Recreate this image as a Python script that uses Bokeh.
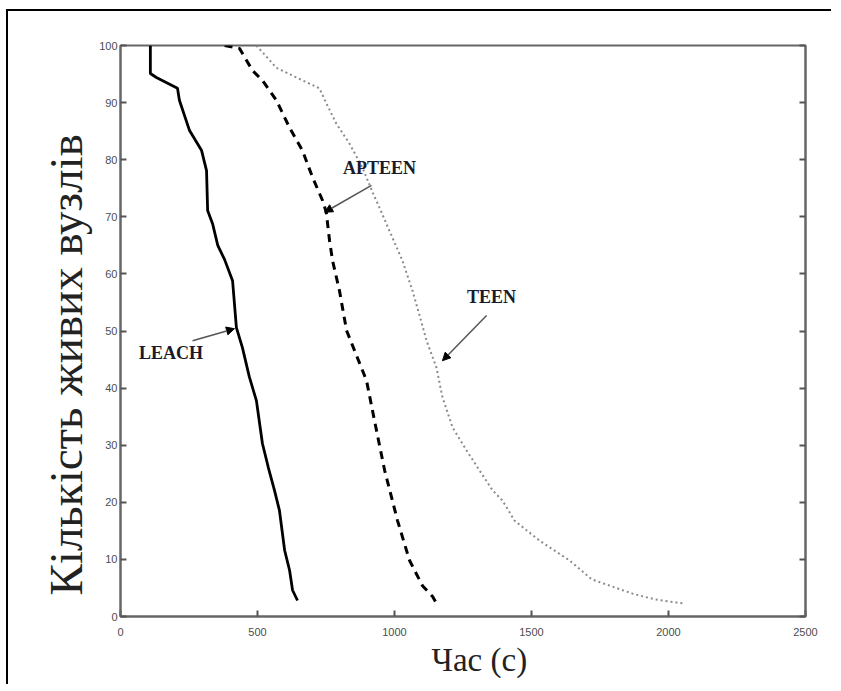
from bokeh.plotting import figure
from bokeh.models import LinearAxis, FixedTicker, Title, Arrow, NormalHead
from bokeh.core.properties import value
from bokeh.embed import file_html
from bokeh.resources import INLINE

# ---- data ----
leach_x = [109, 109, 131, 208, 215, 252, 296, 314, 318, 336, 355, 380, 409, 423, 445, 470, 496, 518, 540, 562, 580, 599, 617, 628, 646]
leach_y = [100, 95.1, 94.4, 92.5, 90.4, 85.1, 81.6, 78.1, 71.1, 68.8, 65, 62.5, 58.8, 50.6, 47.1, 42, 37.8, 30.3, 26, 22.1, 18.6, 11.6, 8.1, 4.6, 2.8]

apteen_x = [380, 434, 482, 518, 569, 617, 664, 701, 737, 751, 763, 774, 799, 825, 854, 898, 927, 964, 1011, 1055, 1102, 1139, 1153]
apteen_y = [100, 99.5, 95.6, 93.9, 90.4, 85.6, 81.6, 76.9, 72.9, 70.8, 65.8, 62.3, 57.1, 50.1, 46.6, 41.3, 34.3, 25.6, 16.8, 9.8, 5.4, 3.5, 2.3]

teen_x = [496, 569, 642, 726, 752, 788, 836, 883, 920, 945, 982, 1029, 1066, 1091, 1117, 1153, 1175, 1212, 1263, 1310, 1358, 1394, 1438, 1529, 1639, 1720, 1869, 1950, 2051]
teen_y = [100, 96.1, 94.4, 92.5, 89.8, 86.3, 82.8, 78.6, 74.3, 71.6, 67.5, 62.3, 57.0, 52.8, 48.3, 43.6, 38.4, 33.1, 29.1, 25.6, 22.1, 20.3, 16.8, 13.3, 9.8, 6.5, 4.0, 3.0, 2.3]

x_ticks = [0, 500, 1000, 1500, 2000, 2500]
y_ticks = [0, 10, 20, 30, 40, 50, 60, 70, 80, 90, 100]

series_names = ["LEACH", "APTEEN", "TEEN"]
x_title = "Час (с)"
y_title = "Кількість живих вузлів"

# ---- figure ----
p = figure(width=825, height=675, x_range=(0, 2500), y_range=(0, 100),
           output_backend="svg", toolbar_location=None,
           min_border_left=112, min_border_right=28, min_border_top=34, min_border_bottom=70)
p.margin = (11, 0, 0, 8)
p.styles = {"box-shadow": "-2px -2px 0px 0px black"}
p.xgrid.visible = False
p.ygrid.visible = False
p.outline_line_color = "#666666"
p.outline_line_width = 2
p.background_fill_color = "white"
p.border_fill_color = "white"

for ax in (p.xaxis[0], p.yaxis[0]):
    ax.axis_line_color = "#666666"
    ax.axis_line_width = 2
    ax.major_tick_in = 6
    ax.major_tick_out = 0
    ax.major_tick_line_color = "#555555"
    ax.major_tick_line_width = 2
    ax.minor_tick_line_color = None
    ax.major_label_text_font = "Liberation Sans"
    ax.major_label_text_font_size = "11px"
    ax.major_label_text_color = "#4d4d4d"
p.xaxis[0].major_label_standoff = 11
p.yaxis[0].major_label_standoff = 3
p.xaxis[0].ticker = FixedTicker(ticks=x_ticks)
p.yaxis[0].ticker = FixedTicker(ticks=y_ticks)

rax = LinearAxis(ticker=FixedTicker(ticks=y_ticks))
rax.axis_line_color = "#666666"
rax.axis_line_width = 2
rax.major_tick_in = 6
rax.major_tick_out = 0
rax.major_tick_line_color = "#555555"
rax.major_tick_line_width = 2
rax.minor_tick_line_color = None
rax.major_label_text_color = None
rax.major_label_text_font_size = "1px"
p.add_layout(rax, "right")

# axis titles
xt = Title(text=x_title, align="left", offset=311, text_font="Liberation Serif",
           text_font_size="33px", text_font_style="normal", text_color="#222222",
           standoff=2)
p.add_layout(xt, "below")
yt = Title(text=y_title, align="left", offset=21, text_font="Liberation Serif",
           text_font_size="47px", text_font_style="normal", text_color="#222222")
p.add_layout(yt, "left")

# series
p.line(leach_x, leach_y, line_color="black", line_width=2.8)
p.line(apteen_x, apteen_y, line_color="black", line_width=3, line_dash="8 6")
p.line(teen_x, teen_y, line_color="#8a8a8a", line_width=2, line_dash="2 3")

# annotations
lab_x = [184, 945, 1354]
lab_y = [46.2, 78.6, 55.9]
p.text(lab_x, lab_y, text=series_names, text_font=value("Liberation Serif"),
       text_font_style="bold", text_font_size="18px", text_color="#1a1a2a",
       text_align="center", text_baseline="middle")

arrows = [((263, 48.3), (416, 50.4)), ((916, 75.5), (745, 70.8)), ((1336, 52.7), (1175, 44.8))]
for (xs, ys), (xe, ye) in arrows:
    p.add_layout(Arrow(end=NormalHead(size=8, fill_color="black", line_color="black"),
                       x_start=xs, y_start=ys, x_end=xe, y_end=ye,
                       line_color="#555555", line_width=1.5))

open("out.html", "w").write(file_html(p, INLINE))
